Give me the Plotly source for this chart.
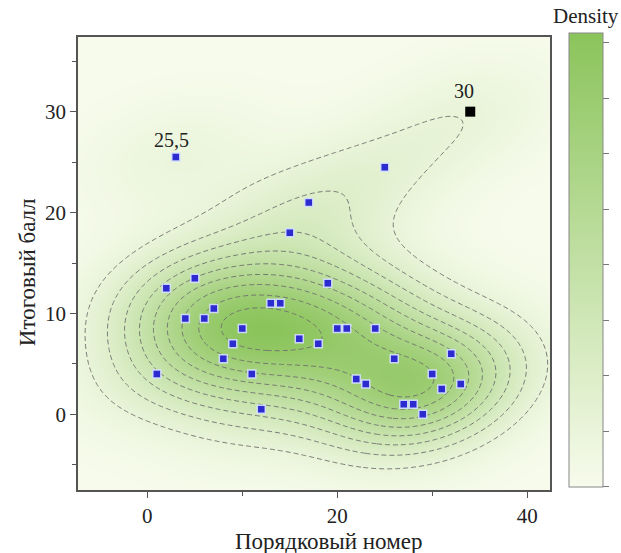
import numpy as np
import plotly.graph_objects as go

# Data
order_no = [1, 2, 3, 4, 5, 6, 7, 8, 9, 10, 11, 12, 13, 14, 15, 16, 17,
            18, 19, 20, 21, 22, 23, 24, 25, 26, 27, 28, 29, 30, 31, 32, 33, 34]
score = [4, 12.5, 25.5, 9.5, 13.5, 9.5, 10.5, 5.5, 7, 8.5, 4, 0.5, 11, 11, 18, 7.5, 21,
         7, 13, 8.5, 8.5, 3.5, 3, 8.5, 24.5, 5.5, 1, 1, 0, 4, 2.5, 6, 3, 30]
x_ticks = [0, 20, 40]
y_ticks = [0, 10, 20, 30]

xs = np.array(order_no[:-1], dtype=float)
ys = np.array(score[:-1], dtype=float)
xa = np.array(order_no, dtype=float)
ya = np.array(score, dtype=float)

# Gaussian KDE on all points (bandwidth chosen to match the look)
hx, hy, rho = 6.5, 3.9, 0.25


def kde(px, py):
    px = np.asarray(px, dtype=float)[..., None]
    py = np.asarray(py, dtype=float)[..., None]
    u = (px - xa) / hx
    v = (py - ya) / hy
    q = (u * u - 2 * rho * u * v + v * v) / (1 - rho ** 2)
    return np.exp(-0.5 * q).sum(axis=-1) / (2 * np.pi * hx * hy * np.sqrt(1 - rho ** 2) * len(xa))


gx = np.linspace(-8, 43, 220)
gy = np.linspace(-8, 38, 200)
GX, GY = np.meshgrid(gx, gy)
Z = kde(GX, GY)
zmax = Z.max()
level0 = float(kde([33.2], [29.0])[0])
step = (0.93 * zmax - level0) / 8

font_family = "Liberation Serif, Times New Roman, serif"
txt = dict(family=font_family, size=20, color="#222")
cb_txt = dict(family=font_family, size=21, color="#222")
tick_txt = dict(family=font_family, size=21, color="#222")
title_txt = dict(family=font_family, size=23, color="#222")

fig = go.Figure()
fig.add_trace(go.Heatmap(
    x=gx, y=gy, z=Z, zsmooth="best",
    colorscale=[[0, "#f7fbec"], [1, "#8bc45b"]],
    zmin=0, zmax=zmax,
    colorbar=dict(
        showticklabels=False, ticks="outside", ticklen=6, tickcolor="#777",
        tickmode="linear", tick0=0, dtick=zmax * 444 / 454 / 8,
        thickness=34, len=454, lenmode="pixels", xpad=0, ypad=0,
        x=1.04, xanchor="left", y=1.009, yanchor="top",
        outlinewidth=1, outlinecolor="#888",
    ),
    hoverinfo="skip",
))
fig.add_trace(go.Contour(
    x=gx, y=gy, z=Z, showscale=False,
    contours=dict(coloring="none", start=level0, end=level0 + 8.01 * step, size=step),
    line=dict(color="rgba(110,110,110,0.9)", width=1, dash="5px,3px"),
    hoverinfo="skip",
))
fig.add_trace(go.Scatter(
    x=xs, y=ys, mode="markers",
    marker=dict(symbol="square", size=8, color="#2b2bd0",
                line=dict(color="rgba(215,225,255,0.9)", width=1.5)),
    showlegend=False,
))
fig.add_trace(go.Scatter(
    x=[order_no[-1]], y=[score[-1]], mode="markers",
    marker=dict(symbol="square", size=10, color="#000000"),
    showlegend=False,
))
fig.add_annotation(x=order_no[2], y=score[2], text="25,5", showarrow=False, yshift=17, xshift=-4,
                   font=txt)
fig.add_annotation(x=order_no[-1], y=score[-1], text="30", showarrow=False, yshift=21, xshift=-6,
                   font=txt)
fig.add_annotation(x=1.076, xref="paper", y=1.0, yref="paper", yshift=21, text="Density",
                   showarrow=False, font=cb_txt, xanchor="center", yanchor="middle")
# axis titles
fig.add_annotation(x=0.53, xref="paper", y=-0.1126, yref="paper", text="Порядковый номер",
                   showarrow=False, font=title_txt, xanchor="center", yanchor="middle")
fig.add_annotation(x=-0.108, xref="paper", y=0.481, yref="paper", text="Итоговый балл",
                   showarrow=False, font=title_txt, textangle=-90, xanchor="center", yanchor="middle")

axis_common = dict(showline=True, mirror=True, linecolor="#555", linewidth=1.5,
                   ticks="outside", ticklen=6, tickcolor="#555", showgrid=False, zeroline=False,
                   tickfont=tick_txt)
fig.update_xaxes(range=[-7.3, 42.4], tickmode="array", tickvals=x_ticks,
                 minor=dict(dtick=10, tick0=0, ticks="outside", ticklen=4, tickcolor="#555"),
                 **axis_common)
fig.update_yaxes(range=[-7.5, 37.4], tickmode="array", tickvals=y_ticks,
                 minor=dict(dtick=5, tick0=0, ticks="outside", ticklen=4, tickcolor="#555"),
                 **axis_common)
fig.update_layout(width=621, height=553, margin=dict(l=78, r=71, t=37, b=63, autoexpand=False),
                  paper_bgcolor="white", plot_bgcolor="white", showlegend=False)
fig.write_html("out.html", config={"displayModeBar": False},
               post_script="document.body.style.margin='0';")
